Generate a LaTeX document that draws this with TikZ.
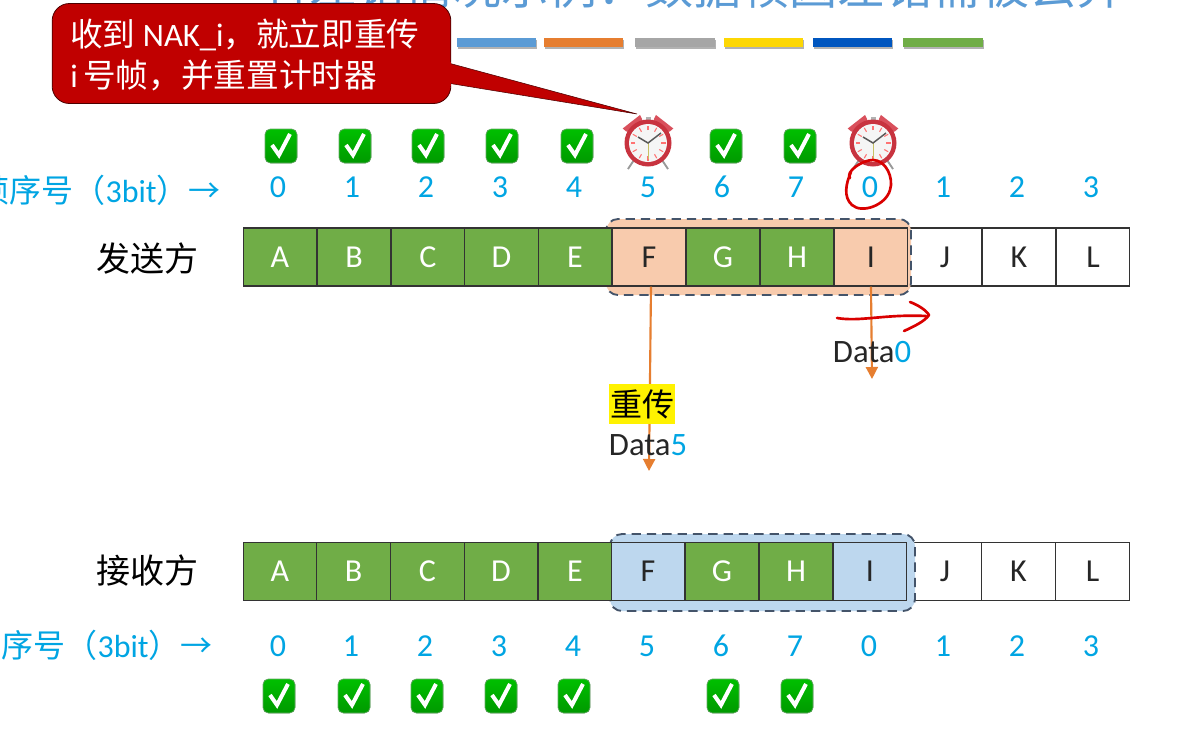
\documentclass[tikz,border=0pt]{standalone}
\usepackage{fontspec}
\setmainfont{Carlito}
\newfontfamily\cjk{Noto Sans CJK SC}
\usetikzlibrary{arrows.meta,calc,shadows}
\definecolor{cellgreen}{HTML}{70AD47}
\definecolor{peach}{HTML}{F8CBAD}
\definecolor{paleblue}{HTML}{BDD7EE}
\definecolor{winborder}{HTML}{44546A}
\definecolor{seqblue}{HTML}{00A5E3}
\definecolor{titleblue}{HTML}{5B9BD5}
\definecolor{tipred}{HTML}{C00000}
\definecolor{arroworange}{HTML}{E67E30}
\definecolor{clockred}{HTML}{C8333F}
\definecolor{bellred}{HTML}{D9505C}
\tikzset{
  x=0.75pt,y=-0.75pt,
  cellbase/.style={draw=black!80,line width=0.8pt,minimum width=55.3pt,minimum height=43.5pt,inner sep=0pt,font=\fontsize{24}{24}\selectfont,anchor=center},
  okcell/.style={cellbase,fill=cellgreen,text=white},
  sendwait/.style={cellbase,fill=peach,text=black!85},
  recvwait/.style={cellbase,fill=paleblue,text=black!85},
  freecell/.style={cellbase,fill=white,text=black!85},
  seqnum/.style={text=seqblue,font=\fontsize{24}{24}\selectfont,inner sep=0pt},
  seqlabel/.style={text=seqblue,font=\fontsize{24}{28}\selectfont,inner sep=0pt},
  sidelabel/.style={text=black,font=\cjk\fontsize{25.5}{30}\selectfont,inner sep=0pt},
  datalabel/.style={text=black!85,font=\fontsize{24.5}{25}\selectfont,inner sep=0pt},
  sendarrow/.style={draw=arroworange,line width=1.6pt,-{Triangle[length=9pt,width=9pt]}},
  winbox/.style={fill=#1,draw=none,rounded corners=9pt},
  windash/.style={draw=winborder,line width=1.4pt,dash pattern=on 7pt off 4.5pt,rounded corners=9pt},
  colorbar/.style={fill=#1,draw=none,drop shadow={shadow xshift=0.4pt,shadow yshift=-1.5pt,opacity=.3,fill=black}},
  ink/.style={draw=red!85!black,line width=2pt,line cap=round,line join=round},
}
\newcommand{\okmark}[2]{%
  \begin{scope}[shift={(#1,#2)}]
    \fill[draw=green!45!black!60,line width=0.5pt,top color=green!75!black,bottom color=green!60!black,rounded corners=4pt] (-16,-17) rectangle (16,17);
    \draw[white,line width=3pt,line join=miter] (-9,-1) -- (-2,9) -- (9,-12);
  \end{scope}}
\newcommand{\clockface}[2]{%
  \begin{scope}[shift={(#1,#2)}]
    \draw[gray!80,line width=1.4pt] (-14,17) -- (-20,26) (14,17) -- (20,26);
    \fill[bellred,rotate=-38] (-11,-27) arc[start angle=180,end angle=0,radius=11] -- cycle;
    \fill[bellred,rotate=38] (-11,-27) arc[start angle=180,end angle=0,radius=11] -- cycle;
    \fill[gray!60] (-2.5,-26) rectangle (2.5,-21);
    \fill[clockred] (0,0) circle[radius=23.5];
    \fill[gray!8] (0,0) circle[radius=19];
    \foreach \a in {0,30,...,330}
      \draw[red!55!white,line width=0.8pt] (\a:13) -- (\a:17.5);
    \draw[gray!50!yellow,line width=0.5pt] (0,0) -- (0,16);
    \draw[black!65,line width=1.1pt] (-10,-6) -- (0,0) -- (13,-10);
  \end{scope}}
\begin{document}
\begin{tikzpicture}
\useasboundingbox (0,0) rectangle (1204,744);
\clip (0,0) rectangle (1204,744);
\fill[white] (0,0) rectangle (1204,744);

% cut-off title
\node[anchor=base east,inner sep=0pt,text=titleblue,font=\cjk\fontsize{36}{36}\selectfont] (title) at (1126,4) {有差错情况示例：数据帧因差错需被丢弃};

% colour bars
\fill[colorbar=titleblue] (457,38) rectangle (536,47);
\fill[colorbar=arroworange] (544,38) rectangle (623,47);
\fill[colorbar={black!35}] (635,38) rectangle (715,47);
\fill[colorbar={yellow!75!orange}] (724,38) rectangle (803,47);
\fill[colorbar={blue!55!cyan!75!black}] (813,38) rectangle (892,47);
\fill[colorbar=cellgreen] (903,38) rectangle (983,47);

% sender row
\foreach \i/\t/\cx in {9/J/945,10/K/1019,11/L/1093}
  \node[freecell] (s\i) at (\cx,257) {\t};
\fill[winbox=peach] (606,219) rectangle (911,295);
\draw[windash] (606,219) rectangle (911,295);
\foreach \i/\t/\cx/\st in {0/A/280/okcell,1/B/354/okcell,2/C/428/okcell,3/D/501.5/okcell,4/E/575/okcell,5/F/649/sendwait,6/G/723/okcell,7/H/797/okcell,8/I/871/sendwait}
  \node[\st] (s\i) at (\cx,257) {\t};

% receiver row
\foreach \i/\t/\cx in {9/J/945,10/K/1018.5,11/L/1092.5}
  \node[freecell] (r\i) at (\cx,571.5) {\t};
\fill[winbox=paleblue] (610,534) rectangle (915,611);
\draw[windash] (610,534) rectangle (915,611);
\foreach \i/\t/\cx/\st in {0/A/280/okcell,1/B/353.5/okcell,2/C/427.5/okcell,3/D/501/okcell,4/E/575/okcell,5/F/648/recvwait,6/G/722/okcell,7/H/796/okcell,8/I/870/recvwait}
  \node[\st] (r\i) at (\cx,571.5) {\t};

% sequence numbers
\foreach \n/\t/\cx in {0/0/278,1/1/352,2/2/426,3/3/500,4/4/574,5/5/648,6/6/722,7/7/796,8/0/870,9/1/943,10/2/1017,11/3/1091}
  \node[seqnum] (sn\n) at (\cx,187) {\t};
\foreach \n/\t/\cx in {0/0/278,1/1/351,2/2/425,3/3/499,4/4/573,5/5/647,6/6/721,7/7/795,8/0/869,9/1/943,10/2/1017,11/3/1091}
  \node[seqnum] (rn\n) at (\cx,646) {\t};

\node[seqlabel,anchor=east] (slabel) at (221,190) {{\cjk 帧序号（}3bit{\cjk ）→}};
\node[seqlabel,anchor=east] (rlabel) at (213,645) {{\cjk 帧序号（}3bit{\cjk ）→}};
\node[sidelabel] (sender) at (147,259) {发送方};
\node[sidelabel] (receiver) at (147,571) {接收方};

% marks
\foreach \cx in {281,355,428,502,577,726,800} { \okmark{\cx}{146} }
\foreach \cx in {279,354,427,501,574,723,797} { \okmark{\cx}{696} }
\clockface{648}{143}
\clockface{873}{143}

% sending arrows and labels
\coordinate (f5end) at (649,471);
\coordinate (i0end) at (872,379);
\draw[sendarrow] ([xshift=1.5pt]s5.south) -- (f5end);
\draw[sendarrow] (s8.south) -- (i0end);
\node[datalabel,anchor=center] (data0) at (872,352) {Data\textcolor{seqblue}{0}};
\node[datalabel,anchor=center] (data5) at (648,445) {Data\textcolor{seqblue}{5}};
\node[fill=yellow,text=black,font=\cjk\fontsize{24}{24}\selectfont,inner sep=0pt,minimum width=49.5pt,minimum height=30pt] (retx) at (642,404) {重传};

% callout
\node[draw=red!30!black,line width=0.6pt,fill=tipred,rounded corners=13pt,minimum width=299pt,minimum height=75pt,inner sep=0pt] (callout) at (251.5,53.5) {};
\coordinate (tiptop) at ($(callout.east)+(-1,10)$);
\coordinate (tipbot) at ($(callout.east)+(-1,30)$);
\coordinate (tipend) at (637,114);
\fill[tipred,draw=red!30!black,line width=0.4pt] (tiptop) -- (tipend) -- (tipbot) -- cycle;
\fill[tipred] ($(callout.east)+(-3,8)$) rectangle ($(callout.east)+(-0.5,32)$);
\node[anchor=west,text=white,inner sep=0pt,font=\fontsize{24.5}{25}\selectfont] (tipa) at (70,35) {{\cjk 收到 }NAK\_i{\cjk ，就立即重传}};
\node[anchor=west,text=white,inner sep=0pt,font=\fontsize{24.5}{25}\selectfont] (tipb) at (70,75) {i\,{\cjk 号帧，并重置计时器}};

% hand-drawn ink
\draw[ink] (850,178) .. controls (845,172) and (862,160) .. (873,160) .. controls (886,160) and (894,178) .. (890,190) .. controls (886,205) and (862,214) .. (852,205) .. controls (843,197) and (846,183) .. (851,172);
\draw[ink] (837,318) .. controls (860,322) and (885,314) .. (926,316);
\draw[ink] (910,302) .. controls (918,305) and (926,310) .. (929,315) .. controls (925,321) and (915,326) .. (904,331);
\end{tikzpicture}
\end{document}
